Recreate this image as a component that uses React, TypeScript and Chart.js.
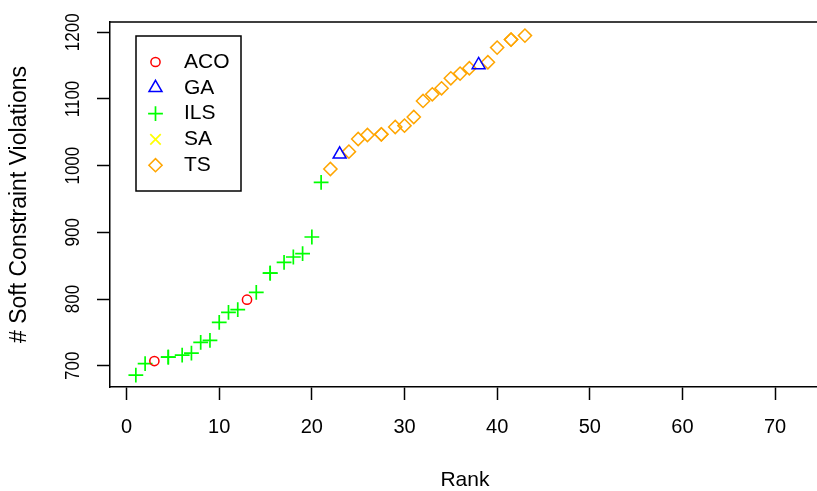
import React, { useEffect, useRef } from 'react';
import { Chart, registerables } from 'chart.js';
import { drawPoint } from 'chart.js/helpers';

Chart.register(...registerables);

const seriesNames = ['ACO', 'GA', 'ILS', 'SA', 'TS'];
const seriesColors = ['#FF0000', '#0000FF', '#00FF00', '#FFFF00', '#FFA500'];

const acoRanks = [3, 13];
const acoValues = [707, 799];

const gaRanks = [23, 38];
const gaValues = [1017, 1151];

const ilsRanks = [1, 2, 4.5, 4.5, 6, 7, 8, 9, 10, 11, 12, 14, 15.5, 15.5, 17, 18, 19, 20, 21];
const ilsValues = [686, 703, 713, 713, 716, 719, 735, 738, 765, 780, 784, 810, 839, 839, 855, 863, 868, 893, 975];

const saRanks: number[] = [];
const saValues: number[] = [];

const tsRanks = [22, 24, 25, 26, 27.5, 27.5, 29, 30, 31, 32, 33, 34, 35, 36, 37, 39, 40, 41.5, 41.5, 43];
const tsValues = [995, 1021, 1040, 1046, 1047, 1047, 1058, 1060, 1073, 1097, 1107, 1116, 1131, 1138, 1146, 1155, 1177, 1189, 1189, 1195];

const xTickValues = [0, 10, 20, 30, 40, 50, 60, 70];
const yTickValues = [700, 800, 900, 1000, 1100, 1200];

const xTitle = 'Rank';
const yTitle = '# Soft Constraint Violations';

const FONT = '"Liberation Sans", Arial, Helvetica, sans-serif';

const pts = (xs: number[], ys: number[]) => xs.map((x, i) => ({ x, y: ys[i] }));

const styles = [
  { pointStyle: 'circle', radius: 4.6, borderWidth: 1.5 },
  { pointStyle: 'triangle', radius: 7.5, borderWidth: 1.5 },
  { pointStyle: 'cross', radius: 7.4, borderWidth: 1.7 },
  { pointStyle: 'crossRot', radius: 7.4, borderWidth: 1.7 },
  { pointStyle: 'rectRot', radius: 6.6, borderWidth: 1.5 },
];

const frameAndLegend = {
  id: 'frameAndLegend',
  afterDraw(chart: any) {
    const { ctx, chartArea: a, scales } = chart;
    ctx.save();
    ctx.strokeStyle = '#000';
    ctx.lineWidth = 1.5;
    ctx.beginPath();
    ctx.moveTo(a.left, a.top);
    ctx.lineTo(a.right, a.top);
    ctx.lineTo(a.right, a.bottom);
    ctx.stroke();

    // y tick labels, parallel to the axis
    ctx.font = `20px ${FONT}`;
    ctx.fillStyle = '#000';
    ctx.textAlign = 'center';
    ctx.textBaseline = 'middle';
    const ys = scales.y;
    ys.ticks.forEach((t: any) => {
      const py = ys.getPixelForValue(t.value);
      ctx.save();
      ctx.translate(a.left - 37, py);
      ctx.rotate(-Math.PI / 2);
      ctx.scale(0.85, 1);
      ctx.fillText(String(t.value), 0, 0);
      ctx.restore();
    });

    // legend box
    const bx = a.left + 26;
    const by = a.top + 14;
    const bw = 105;
    const bh = 155;
    ctx.lineWidth = 1.5;
    ctx.strokeStyle = '#000';
    ctx.strokeRect(bx, by, bw, bh);
    const rowStep = 25.8;
    chart.data.datasets.forEach((ds: any, i: number) => {
      const cy = by + 26 + i * rowStep;
      const cx = bx + 19.5;
      ctx.strokeStyle = ds.pointBorderColor;
      ctx.fillStyle = 'rgba(0,0,0,0)';
      ctx.lineWidth = ds.pointBorderWidth;
      drawPoint(ctx, { pointStyle: ds.pointStyle, radius: ds.pointRadius, borderWidth: ds.pointBorderWidth, rotation: 0 } as any, cx, cy);
      ctx.fillStyle = '#000';
      ctx.textAlign = 'left';
      ctx.textBaseline = 'middle';
      ctx.font = `21px ${FONT}`;
      ctx.fillText(ds.label, bx + 48, cy);
    });
    ctx.restore();
  },
};

export default function App() {
  const ref = useRef<HTMLCanvasElement | null>(null);
  useEffect(() => {
    if (!ref.current) return;
    const allX = [acoRanks, gaRanks, ilsRanks, saRanks, tsRanks];
    const allY = [acoValues, gaValues, ilsValues, saValues, tsValues];
    const chart = new Chart(ref.current, {
      type: 'scatter',
      data: {
        datasets: seriesNames.map((name, i) => ({
          label: name,
          data: pts(allX[i], allY[i]),
          pointStyle: styles[i].pointStyle as any,
          pointRadius: styles[i].radius,
          pointHoverRadius: styles[i].radius,
          pointBorderWidth: styles[i].borderWidth,
          pointBorderColor: seriesColors[i],
          pointBackgroundColor: 'rgba(0,0,0,0)',
          showLine: false,
        })),
      },
      options: {
        animation: false,
        responsive: false,
        devicePixelRatio: 1,
        layout: { padding: { top: 22, left: 0, right: 0, bottom: 0 } },
        plugins: { legend: { display: false }, tooltip: { enabled: false } },
        scales: {
          x: {
            type: 'linear',
            min: -1.79,
            max: 74.84,
            afterBuildTicks: (s: any) => { s.ticks = xTickValues.map((v) => ({ value: v })); },
            afterFit: (s: any) => { s.height = 104; },
            grid: { display: true, drawOnChartArea: false, drawTicks: true, tickLength: 13, tickColor: '#000', tickWidth: 1.5 },
            border: { display: true, color: '#000', width: 1.5 },
            ticks: { color: '#000', font: { family: FONT, size: 20 }, padding: 15, maxRotation: 0, autoSkip: false },
            title: { display: true, text: xTitle, color: '#000', font: { family: FONT, size: 21, lineHeight: 1 }, padding: { top: 0.5, bottom: 0 } },
          },
          y: {
            type: 'linear',
            min: 668.1,
            max: 1215.4,
            afterBuildTicks: (s: any) => { s.ticks = yTickValues.map((v) => ({ value: v })); },
            afterFit: (s: any) => { s.width = 110; },
            grid: { display: true, drawOnChartArea: false, drawTicks: true, tickLength: 13, tickColor: '#000', tickWidth: 1.5 },
            border: { display: true, color: '#000', width: 1.5 },
            ticks: { display: false },
            title: { display: true, text: yTitle, color: '#000', font: { family: FONT, size: 23, lineHeight: 1 }, padding: { top: 8.5, bottom: 0 } },
          },
        },
      },
      plugins: [frameAndLegend],
    });
    return () => chart.destroy();
  }, []);
  return (
    <div style={{ position: 'fixed', left: 0, top: 0, width: 817, height: 491, overflow: 'hidden', background: '#fff' }}>
      <canvas ref={ref} width={829} height={491} style={{ display: 'block' }} />
    </div>
  );
}
